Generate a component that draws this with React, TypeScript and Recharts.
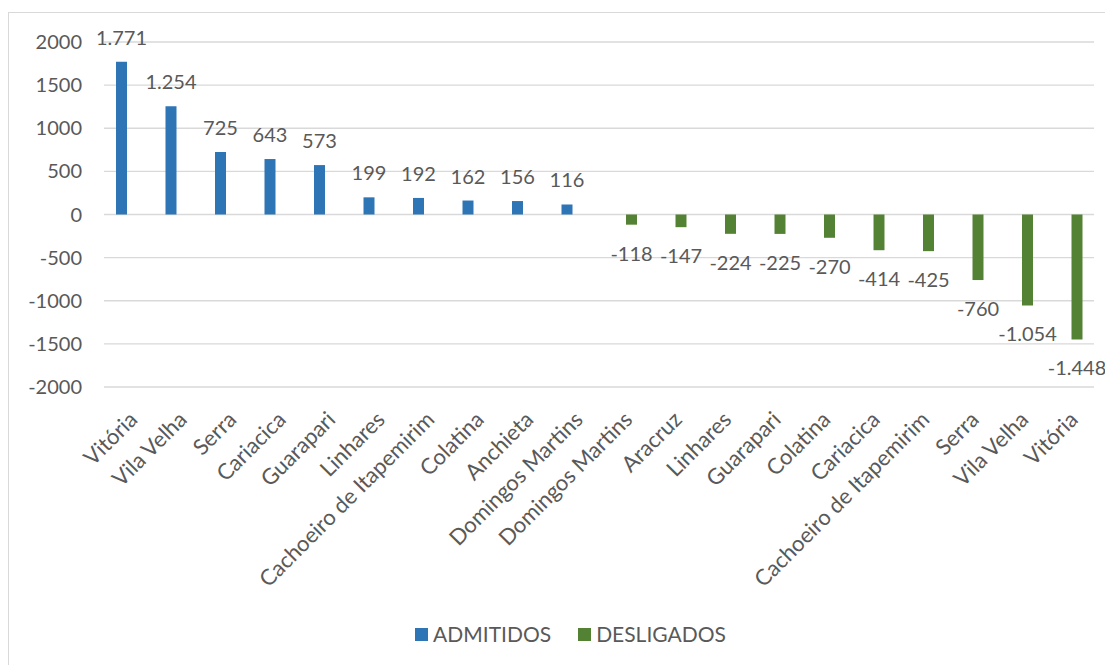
import { BarChart, Bar, XAxis, YAxis, CartesianGrid, Legend, LabelList } from 'recharts'

// Saldo por município: admitidos (positivo) e desligados (negativo)
const CIDADES = [
  'Vitória', 'Vila Velha', 'Serra', 'Cariacica', 'Guarapari', 'Linhares',
  'Cachoeiro de Itapemirim', 'Colatina', 'Anchieta', 'Domingos Martins',
  'Domingos Martins', 'Aracruz', 'Linhares', 'Guarapari', 'Colatina',
  'Cariacica', 'Cachoeiro de Itapemirim', 'Serra', 'Vila Velha', 'Vitória',
]
const ADMITIDOS = [1771, 1254, 725, 643, 573, 199, 192, 162, 156, 116, null, null, null, null, null, null, null, null, null, null]
const DESLIGADOS = [null, null, null, null, null, null, null, null, null, null, -118, -147, -224, -225, -270, -414, -425, -760, -1054, -1448]
const Y_TICKS = [-2000, -1500, -1000, -500, 0, 500, 1000, 1500, 2000]

const COR_ADMITIDOS = '#2E75B6'
const COR_DESLIGADOS = '#548235'
const COR_TEXTO = '#595959'
const FONTE = 'Lato, "Open Sans", sans-serif'

const data = CIDADES.map((cidade, i) => ({
  i,
  cidade,
  admitidos: ADMITIDOS[i],
  desligados: DESLIGADOS[i],
}))

// 1771 -> "1.771", -1448 -> "-1.448"
function fmtNum(n: number): string {
  const s = String(Math.abs(n)).replace(/\B(?=(\d{3})+(?!\d))/g, '.')
  return n < 0 ? `-${s}` : s
}

function ValorLabel(props: any) {
  const { x, y, width, height, value } = props
  if (value == null) return null
  const top = Math.min(y, y + height)
  const bottom = Math.max(y, y + height)
  const cy = value >= 0 ? top - 25 : bottom + 28
  return (
    <text x={x + width / 2} y={cy} textAnchor="middle" dominantBaseline="central"
      fontFamily={FONTE} fontSize={20} fill={COR_TEXTO}>
      {fmtNum(value)}
    </text>
  )
}

function CidadeTick(props: any) {
  const { x, y, payload } = props
  return (
    <g transform={`translate(${x + 4},${y + 20})`}>
      <text x={0} y={0} transform="rotate(-45)" textAnchor="end" dominantBaseline="central"
        fontFamily={FONTE} fontSize={22} fill={COR_TEXTO}>
        {CIDADES[payload.value]}
      </text>
    </g>
  )
}

function Legenda() {
  const itens = [
    { nome: 'ADMITIDOS', cor: COR_ADMITIDOS },
    { nome: 'DESLIGADOS', cor: COR_DESLIGADOS },
  ]
  return (
    <div style={{ display: 'flex', justifyContent: 'center', paddingLeft: 38, gap: 27, fontFamily: FONTE, fontSize: 21, lineHeight: '20px', color: COR_TEXTO }}>
      {itens.map(it => (
        <div key={it.nome} style={{ display: 'flex', alignItems: 'center' }}>
          <span style={{ width: 13, height: 13, background: it.cor, marginRight: 5, display: 'inline-block' }} />
          {it.nome}
        </div>
      ))}
    </div>
  )
}

export default function App() {
  return (
    <div style={{ width: 1105, height: 661, marginTop: 4, boxSizing: 'border-box', borderTop: '1px solid #d9d9d9', borderLeft: '1px solid #d9d9d9', background: '#fff' }}>
      <BarChart width={1104} height={660} data={data} barSize={11} barGap={4}
        margin={{ top: 29, right: 19, bottom: 0, left: 0 }}>
        <CartesianGrid vertical={false} stroke="#d9d9d9" strokeWidth={1.4} />
        <XAxis dataKey="i" type="category" axisLine={false} tickLine={false} interval={0}
          height={237} tick={<CidadeTick />} />
        <YAxis type="number" domain={[-2000, 2000]} ticks={Y_TICKS} axisLine={false} tickLine={false}
          width={95} tickMargin={16} interval={0}
          tick={{ fontFamily: FONTE, fontSize: 20, fill: COR_TEXTO }} />
        <Legend verticalAlign="bottom" height={49} content={<Legenda />} />
        <Bar dataKey="admitidos" name="ADMITIDOS" fill={COR_ADMITIDOS} isAnimationActive={false}>
          <LabelList dataKey="admitidos" content={<ValorLabel />} />
        </Bar>
        <Bar dataKey="desligados" name="DESLIGADOS" fill={COR_DESLIGADOS} isAnimationActive={false}>
          <LabelList dataKey="desligados" content={<ValorLabel />} />
        </Bar>
      </BarChart>
    </div>
  )
}
